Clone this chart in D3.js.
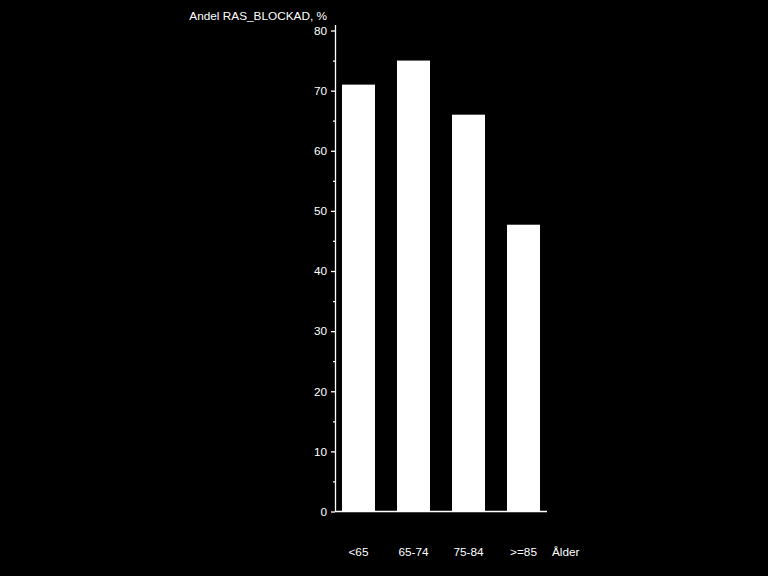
<!DOCTYPE html>
<html>
<head>
<meta charset="utf-8">
<script src="https://cdn.jsdelivr.net/npm/d3@7"></script>
<style>
  html, body { margin: 0; padding: 0; background: #000; }
  text { font-family: "Liberation Sans", Arial, sans-serif; fill: #fff; }
</style>
</head>
<body>
<div id="chart"></div>
<script>
// data
const categories = ["<65", "65-74", "75-84", ">=85"];
const values = [71, 75, 66, 47.7];
const majorTicks = [0, 10, 20, 30, 40, 50, 60, 70, 80];
const minorTicks = [5, 15, 25, 35, 45, 55, 65, 75];
const yTitle = "Andel RAS_BLOCKAD, %";
const xTitle = "Ålder";

const W = 768, H = 576;

const svg = d3.select("#chart")
    .append("svg")
    .attr("width", W)
    .attr("height", H)
    .style("background", "#000");

// scales
const y = d3.scaleLinear()
    .domain([0, 81])
    .range([511.5, 24.5]);

const x = d3.scaleBand()
    .domain(categories)
    .range([335, 547])
    .paddingInner(0.4)
    .paddingOuter(0.127);

// bars
svg.selectAll(".bar")
    .data(categories)
    .enter()
    .append("rect")
    .attr("class", "bar")
    .attr("x", d => x(d))
    .attr("y", (d, i) => y(values[i]))
    .attr("width", x.bandwidth())
    .attr("height", (d, i) => y(0) - y(values[i]))
    .attr("fill", "#fff");

// y axis
const yAxis = svg.append("g")
    .attr("transform", "translate(335,0)")
    .call(d3.axisLeft(y).tickValues(majorTicks).tickSize(4).tickPadding(4).tickSizeOuter(0));
yAxis.select(".domain").attr("stroke", "#fff").attr("stroke-width", 1.3);
yAxis.selectAll(".tick line").attr("stroke", "#fff").attr("stroke-width", 1.3);
yAxis.selectAll(".tick text")
    .attr("fill", "#fff")
    .style("font-size", "11.8px")
    .style("font-family", "'Liberation Sans', Arial, sans-serif");

// minor ticks
svg.append("g")
    .attr("transform", "translate(335,0)")
    .call(d3.axisLeft(y).tickValues(minorTicks).tickSize(2).tickFormat(""))
    .call(g => g.select(".domain").remove())
    .selectAll(".tick line").attr("stroke", "#fff").attr("stroke-width", 1.3);

// x axis line
svg.append("line")
    .attr("x1", 335)
    .attr("x2", x.range()[1])
    .attr("y1", y(0))
    .attr("y2", y(0))
    .attr("stroke", "#fff")
    .attr("stroke-width", 1.3);

// category labels
svg.selectAll(".xlabel")
    .data(categories)
    .enter()
    .append("text")
    .attr("x", d => x(d) + x.bandwidth() / 2)
    .attr("y", 556)
    .attr("text-anchor", "middle")
    .style("font-size", "11.8px")
    .text(d => d);

// titles
svg.append("text")
    .attr("x", 552)
    .attr("y", 556)
    .style("font-size", "11.8px")
    .text(xTitle);

svg.append("text")
    .attr("x", 327)
    .attr("y", 20)
    .attr("text-anchor", "end")
    .style("font-size", "11.8px")
    .text(yTitle);
</script>
</body>
</html>
